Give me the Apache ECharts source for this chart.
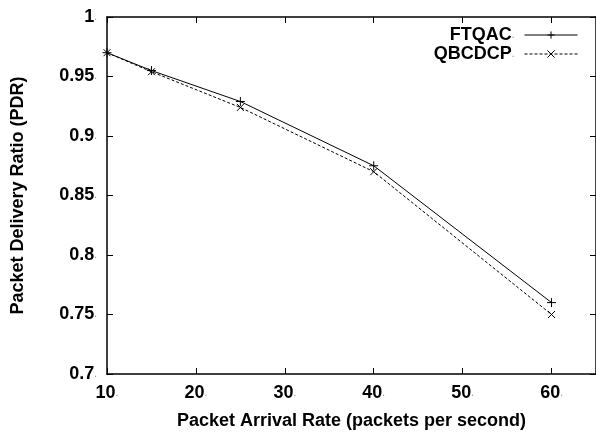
<!DOCTYPE html>
<html>
<head>
<meta charset="utf-8">
<script src="https://cdn.jsdelivr.net/npm/echarts@6/dist/echarts.min.js"></script>
<style>
  html, body { margin: 0; padding: 0; background: #fff; }
  #chart { width: 596px; height: 435px; }
</style>
</head>
<body>
<div id="chart"></div>
<script>
// packet arrival rate (packets per second)
const arrivalRates = [10, 15, 25, 40, 60];
// packet delivery ratio per protocol
const ftqacPdr = [0.970, 0.955, 0.929, 0.875, 0.760];
const qbcdcpPdr = [0.970, 0.954, 0.924, 0.870, 0.750];
const seriesNames = ['FTQAC', 'QBCDCP'];

const FONT = '"Liberation Sans", Arial, sans-serif';

// gnuplot-ish labels: bold text with a faint trailing dot
const richLabel = {
  v: { fontFamily: FONT, fontSize: 18, fontWeight: 'bold', color: '#000' },
  d: { fontFamily: FONT, fontSize: 10, color: '#888' }
};

const chart = echarts.init(document.getElementById('chart'));

chart.setOption({
  animation: false,
  backgroundColor: '#fff',
  grid: { left: 107, top: 17, right: -3, bottom: 61 },
  legend: {
    data: seriesNames,
    orient: 'vertical',
    align: 'right',
    right: 13,
    top: 21,
    itemWidth: 53,
    itemHeight: 9,
    itemGap: 1,
    selectedMode: false,
    lineStyle: { width: 1 },
    itemStyle: { borderWidth: 1 },
    formatter: name => '{v|' + name + '}{d|.}',
    textStyle: { rich: richLabel, padding: [0, 5, 0, 0] }
  },
  xAxis: [{
    type: 'value',
    min: 10,
    max: 65,
    interval: 10,
    name: 'Packet Arrival Rate (packets per second)',
    nameLocation: 'middle',
    nameGap: 38,
    nameTextStyle: { fontFamily: FONT, fontSize: 18, fontWeight: 'bold', color: '#000' },
    axisLine: { lineStyle: { color: '#000', width: 1.5 } },
    axisTick: { inside: true, length: 6, lineStyle: { color: '#000' } },
    axisLabel: {
      margin: 10,
      showMaxLabel: false,
      formatter: v => v > 60 ? '' : '{v|' + v + '}{d|.}',
      rich: richLabel
    },
    splitLine: { show: false }
  }, {
    type: 'value',
    position: 'top',
    min: 10,
    max: 65,
    interval: 10,
    axisLine: { lineStyle: { color: '#000', width: 1.5 } },
    axisTick: { inside: true, length: 6, lineStyle: { color: '#000' } },
    axisLabel: { show: false },
    splitLine: { show: false }
  }],
  yAxis: [{
    type: 'value',
    min: 0.7,
    max: 1,
    interval: 0.05,
    name: 'Packet Delivery Ratio (PDR)',
    nameLocation: 'middle',
    nameGap: 80,
    nameTextStyle: { fontFamily: FONT, fontSize: 18, fontWeight: 'bold', color: '#000' },
    axisLine: { show: true, lineStyle: { color: '#000', width: 1.5 } },
    axisTick: { show: true, inside: true, length: 6, lineStyle: { color: '#000' } },
    axisLabel: {
      margin: 10,
      formatter: v => '{v|' + parseFloat(v.toFixed(2)) + '}{d|.}',
      rich: richLabel
    },
    splitLine: { show: false }
  }, {
    type: 'value',
    position: 'right',
    min: 0.7,
    max: 1,
    interval: 0.05,
    axisLine: { show: true, lineStyle: { color: '#000', width: 1.5 } },
    axisTick: { show: true, inside: true, length: 6, lineStyle: { color: '#000' } },
    axisLabel: { show: false },
    splitLine: { show: false }
  }],
  series: [{
    name: seriesNames[0],
    type: 'line',
    data: arrivalRates.map((x, i) => [x, ftqacPdr[i]]),
    symbol: 'path://M0,5L10,5M5,0L5,10',
    symbolSize: 9,
    showAllSymbol: true,
    itemStyle: { color: 'none', borderColor: '#000', borderWidth: 1 },
    lineStyle: { color: '#000', width: 1, type: 'solid' }
  }, {
    name: seriesNames[1],
    type: 'line',
    data: arrivalRates.map((x, i) => [x, qbcdcpPdr[i]]),
    symbol: 'path://M0,0L10,10M10,0L0,10',
    symbolSize: 7,
    showAllSymbol: true,
    itemStyle: { color: 'none', borderColor: '#000', borderWidth: 1 },
    lineStyle: { color: '#000', width: 1, type: [3, 2] }
  }]
});
</script>
</body>
</html>
